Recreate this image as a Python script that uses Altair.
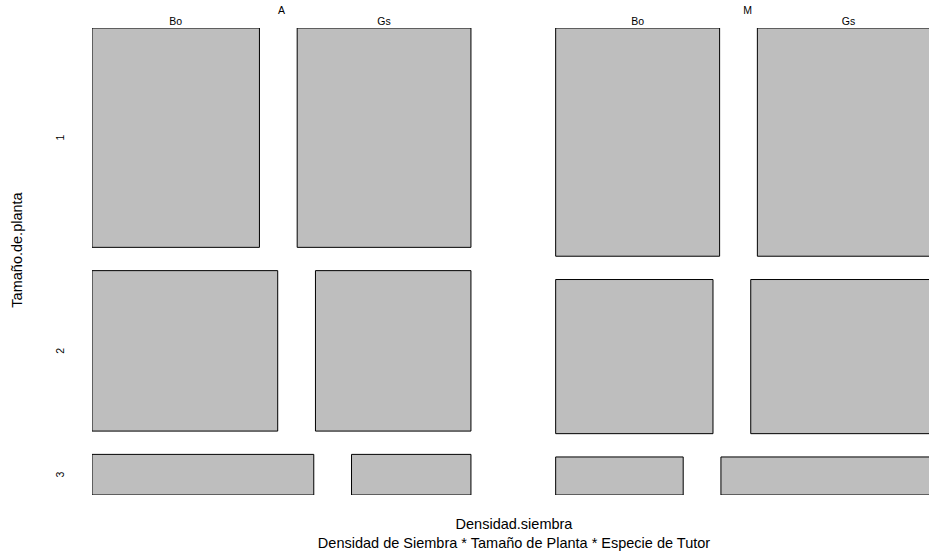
import altair as alt
import pandas as pd

# Contingency counts: Densidad de Siembra x Tamaño de Planta x Especie de Tutor
densities = ["A", "M"]
sizes = ["1", "2", "3"]
tutors = ["Bo", "Gs"]

# counts per plant size (1, 2, 3) for each density / tutor species
count_A_Bo = [53, 43, 13]
count_A_Gs = [55, 36, 7]
count_M_Bo = [54, 35, 7]
count_M_Gs = [60, 42, 12]

counts = {
    ("A", "Bo"): count_A_Bo,
    ("A", "Gs"): count_A_Gs,
    ("M", "Bo"): count_M_Bo,
    ("M", "Gs"): count_M_Gs,
}

# spacing between tiles, mosaicplot style
GAP_DENSITY = 51.4      # between density columns (count units)
GAP_TUTOR = 22.9        # between tutor tiles (count units)
GAP_SIZE = 0.0554       # between size rows (fraction of column height)
X_EXTENT = 507.8

rows = []
col_centers = []
x0 = 0.0
for d in densities:
    n_col = sum(sum(counts[(d, t)]) for t in tutors)
    col_centers.append({"density": d, "xc": x0 + (n_col + GAP_TUTOR) / 2})
    y0 = 0.0
    for i, s in enumerate(sizes):
        row_total = sum(counts[(d, t)][i] for t in tutors)
        h = row_total / n_col
        xx = x0
        for t in tutors:
            w = n_col * counts[(d, t)][i] / row_total
            rows.append({
                "density": d, "size": s, "tutor": t,
                "count": counts[(d, t)][i],
                "x": xx, "x2": xx + w, "y": y0, "y2": y0 + h,
                "xc": xx + w / 2, "yc": y0 + h / 2,
            })
            xx += w + GAP_TUTOR
        y0 += h + GAP_SIZE
    x0 += n_col + GAP_TUTOR + GAP_DENSITY

tiles = pd.DataFrame(rows)
heads = pd.DataFrame(col_centers)

xscale = alt.Scale(domain=[0, X_EXTENT], nice=False, zero=False)
yscale = alt.Scale(domain=[0, 1 + 2 * GAP_SIZE], nice=False, zero=False, reverse=True)
FONT = "Liberation Sans"
SMALL = 10.5

rects = alt.Chart(tiles).mark_rect(
    fill="#bebebe", stroke="black", strokeWidth=1, clip=True
).encode(
    x=alt.X("x:Q", scale=xscale, axis=None),
    x2="x2:Q",
    y=alt.Y("y:Q", scale=yscale, axis=None),
    y2="y2:Q",
)

density_labels = alt.Chart(heads).mark_text(
    font=FONT, fontSize=SMALL, baseline="middle", align="center", color="black"
).encode(
    x=alt.X("xc:Q", scale=xscale, axis=None),
    y=alt.value(-17),
    text="density:N",
)

tutor_labels = alt.Chart(tiles).transform_filter(
    alt.datum.size == "1"
).mark_text(
    font=FONT, fontSize=SMALL, baseline="middle", align="center", color="black"
).encode(
    x=alt.X("xc:Q", scale=xscale, axis=None),
    y=alt.value(-6),
    text="tutor:N",
)

size_labels = alt.Chart(tiles).transform_filter(
    (alt.datum.density == "A") & (alt.datum.tutor == "Bo")
).mark_text(
    font=FONT, fontSize=SMALL, baseline="middle", align="center", angle=270, color="black"
).encode(
    x=alt.value(-31),
    y=alt.Y("yc:Q", scale=yscale, axis=None),
    text="size:N",
)

titles = pd.DataFrame({
    "label": ["Tamaño.de.planta", "Densidad.siembra",
              "Densidad de Siembra * Tamaño de Planta * Especie de Tutor"],
    "px": [-74, 422, 422],
    "py": [222, 497, 516],
    "rot": [270, 0, 0],
})

title_text = alt.Chart(titles).mark_text(
    font=FONT, fontSize=14.5, baseline="middle", align="center", color="black"
).encode(
    x=alt.X("px:Q", scale=None),
    y=alt.Y("py:Q", scale=None),
    angle=alt.Angle("rot:Q", scale=None),
    text="label:N",
)

chart = alt.layer(
    rects, density_labels, tutor_labels, size_labels, title_text
).properties(
    width=837,
    height=467,
    background="white",
    autosize=alt.AutoSizeParams(type="none"),
    padding={"left": 92, "top": 28, "right": 0, "bottom": 65},
).configure_view(stroke=None)

chart.save("out.html", embed_options={"renderer": "svg", "actions": False})
